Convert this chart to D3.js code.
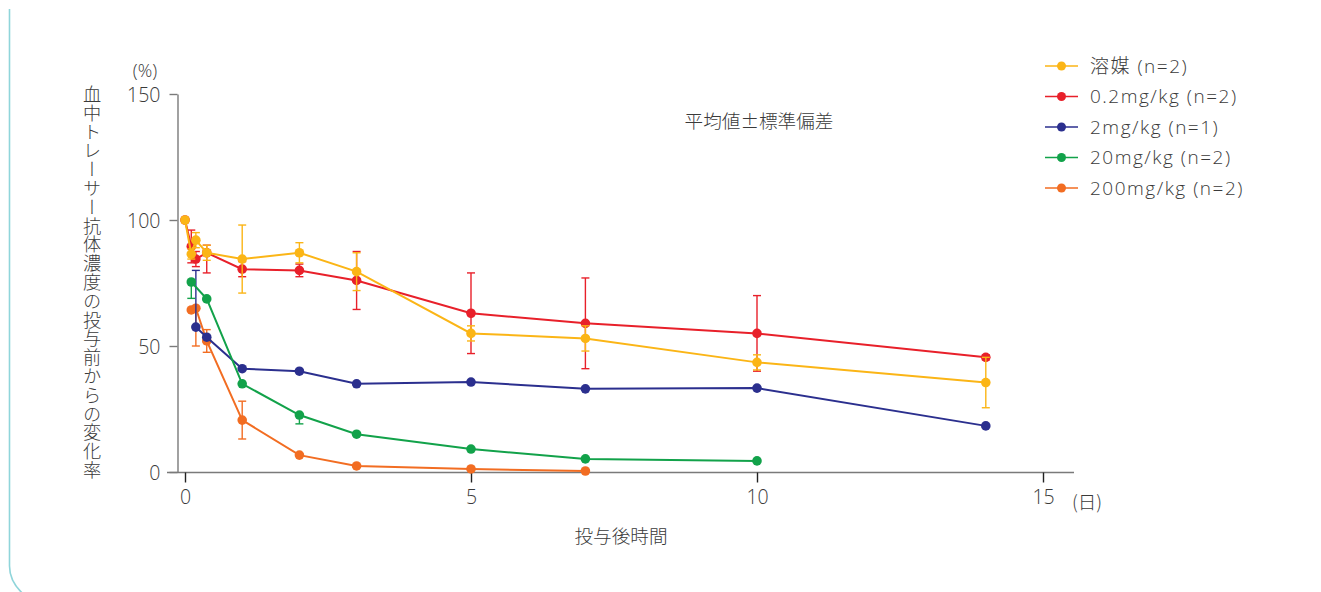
<!DOCTYPE html>
<html>
<head>
<meta charset="utf-8">
<script src="https://cdn.jsdelivr.net/npm/d3@7"></script>
<style>
  html, body { margin: 0; padding: 0; background: #fff; }
  svg { display: block; font-family: "Open Sans", "Noto Sans CJK JP", sans-serif; font-weight: 300; }
</style>
</head>
<body>
<svg id="chart" width="1321" height="592"></svg>
<script>
// Sampling times (days after dosing)
const days = [0, 0.11, 0.19, 0.38, 1, 2, 3, 5, 7, 10, 14];

// Mean change from baseline (%) per group; null = not sampled
const vehicle   = [100, 86.5, 92, 87, 84.5, 87, 79.5, 55, 53, 43.5, 35.5];
const dose0_2   = [100, 89.5, 84.5, 87, 80.5, 80, 76, 63, 59, 55, 45.5];
const dose2     = [null, null, 57.5, 53.5, 41, 40, 35, 35.7, 33, 33.3, 18.3];
const dose20    = [null, 75.4, null, 68.7, 35, 22.6, 15, 9.1, 5.2, 4.4, null];
const dose200   = [null, 64.3, 65, 52, 20.6, 6.7, 2.4, 1.2, 0.4, null, null];

// Standard deviation (upper / lower extent)
const vehicleSdUp   = [0, 2, 3, 3, 13.5, 4, 7.5, 3, 5, 3, 10];
const vehicleSdDn   = [0, 2, 3, 3, 13.5, 4, 7.5, 3, 5, 3, 10];
const dose0_2SdUp   = [0, 6.5, 3, 3, 3, 2.5, 11.5, 16, 18, 15, 1];
const dose0_2SdDn   = [0, 6.5, 3, 8, 3, 2.5, 11.5, 16, 18, 15, 1];
const dose2SdUp     = [0, 0, 22.5, 0, 0, 0, 0, 0, 0, 0, 0];
const dose2SdDn     = [0, 0, 0, 0, 0, 0, 0, 0, 0, 0, 0];
const dose20SdUp    = [0, 0, 0, 0, 0, 0, 0, 0, 0, 0, 0];
const dose20SdDn    = [0, 6.5, 0, 0, 0, 3.5, 0, 0, 0, 0, 0];
const dose200SdUp   = [0, 0, 0, 4.5, 7.5, 0, 0, 0, 0, 0, 0];
const dose200SdDn   = [0, 0, 15, 4.5, 7.5, 0, 0, 0, 0, 0, 0];

const seriesNames  = ["溶媒 (n=2)", "0.2mg/kg (n=2)", "2mg/kg (n=1)", "20mg/kg (n=2)", "200mg/kg (n=2)"];
const seriesColors = ["#fbb516", "#e8202a", "#2b2f8e", "#12a24a", "#f26d22"];

const xTicks = [0, 5, 10, 15];
const yTicks = [0, 50, 100, 150];

const groups = [
  { name: seriesNames[0], color: seriesColors[0], values: vehicle, up: vehicleSdUp, dn: vehicleSdDn },
  { name: seriesNames[1], color: seriesColors[1], values: dose0_2, up: dose0_2SdUp, dn: dose0_2SdDn },
  { name: seriesNames[2], color: seriesColors[2], values: dose2,   up: dose2SdUp,   dn: dose2SdDn },
  { name: seriesNames[3], color: seriesColors[3], values: dose20,  up: dose20SdUp,  dn: dose20SdDn },
  { name: seriesNames[4], color: seriesColors[4], values: dose200, up: dose200SdUp, dn: dose200SdDn }
];

const svg = d3.select("#chart");

// Panel frame: gradient top rule, left rule with rounded bottom corner
const defs = svg.append("defs");
const grad = defs.append("linearGradient").attr("id", "frameGrad")
  .attr("x1", "0%").attr("x2", "100%").attr("y1", "0%").attr("y2", "0%");
grad.append("stop").attr("offset", "0%").attr("stop-color", "#8fd5da");
grad.append("stop").attr("offset", "55%").attr("stop-color", "#b9d69a");
grad.append("stop").attr("offset", "100%").attr("stop-color", "#f7c53a");
svg.append("line").attr("x1", 9).attr("x2", 1321).attr("y1", 9.5).attr("y2", 9.5)
  .attr("stroke", "url(#frameGrad)").attr("stroke-width", 1.6);
svg.append("path").attr("d", "M9.5,9 L9.5,566 Q9.5,584 28,598")
  .attr("fill", "none").attr("stroke", "#8fd5da").attr("stroke-width", 1.6);

const x = d3.scaleLinear().domain([0, 15]).range([185, 1043]);
const y = d3.scaleLinear().domain([0, 150]).range([472, 94]);

const axisColor = "#7a7a7a";
const textColor = "#3a3a3a";
const cjk = "Noto Sans CJK JP";

// Y axis
const yAxis = svg.append("g").attr("transform", "translate(177.5,0)")
  .call(d3.axisLeft(y).tickValues(yTicks).tickSize(8).tickPadding(9).tickSizeOuter(0));
yAxis.select(".domain").attr("stroke", axisColor).attr("stroke-width", 1.4);
yAxis.selectAll(".tick line").attr("stroke", axisColor).attr("stroke-width", 1.4);
yAxis.selectAll(".tick text").attr("fill", textColor).attr("font-size", 19.5)
  .attr("font-family", "Open Sans").attr("font-weight", 300).attr("dy", "0.36em");

// X axis
const xAxis = svg.append("g").attr("transform", "translate(0,472.5)")
  .call(d3.axisBottom(x).tickValues(xTicks).tickSize(10).tickPadding(8).tickSizeOuter(0));
xAxis.select(".domain").attr("d", "M167,0H1074").attr("stroke", axisColor).attr("stroke-width", 1.4);
xAxis.selectAll(".tick line").attr("stroke", "#222").attr("stroke-width", 1.4);
xAxis.selectAll(".tick text").attr("fill", textColor).attr("font-size", 19.5)
  .attr("font-family", "Open Sans").attr("font-weight", 300);

// Axis annotations
svg.append("text").attr("x", 145).attr("y", 77).attr("text-anchor", "middle")
  .attr("fill", textColor).attr("font-size", 18).text("(%)");
svg.append("text").attr("x", 1087).attr("y", 509).attr("text-anchor", "middle")
  .attr("fill", textColor).attr("font-size", 18.5).attr("font-family", cjk).text("(日)");
svg.append("text").attr("x", 621).attr("y", 543).attr("text-anchor", "middle")
  .attr("fill", textColor).attr("font-size", 18.6).attr("font-family", cjk).text("投与後時間");
svg.append("text").attr("x", 759).attr("y", 128).attr("text-anchor", "middle")
  .attr("fill", textColor).attr("font-size", 18.6).attr("font-family", cjk).text("平均値±標準偏差");
svg.append("text").attr("x", 92).attr("y", 85)
  .attr("writing-mode", "vertical-rl").attr("fill", textColor).attr("font-family", cjk)
  .attr("font-size", 18.2).attr("letter-spacing", 0.6)
  .text("血中トレーサー抗体濃度の投与前からの変化率");

// Series, drawn back to front
const drawOrder = [4, 2, 3, 1, 0];
const line = d3.line()
  .defined(d => d.v != null)
  .x(d => x(d.t)).y(d => y(d.v));

drawOrder.forEach(i => {
  const g = groups[i];
  const pts = days.map((t, k) => ({ t, v: g.values[k], up: g.up[k], dn: g.dn[k] }));
  const valid = pts.filter(d => d.v != null);
  const layer = svg.append("g");

  layer.append("path").datum(valid).attr("d", line)
    .attr("fill", "none").attr("stroke", g.color).attr("stroke-width", 2);

  // Error bars
  valid.filter(d => d.up > 0 || d.dn > 0).forEach(d => {
    const cx = x(d.t);
    const top = y(d.v + d.up), bot = y(d.v - d.dn);
    layer.append("line").attr("x1", cx).attr("x2", cx).attr("y1", top).attr("y2", bot)
      .attr("stroke", g.color).attr("stroke-width", 1.4);
    if (d.up > 0) layer.append("line").attr("x1", cx - 4).attr("x2", cx + 4).attr("y1", top).attr("y2", top)
      .attr("stroke", g.color).attr("stroke-width", 1.4);
    if (d.dn > 0) layer.append("line").attr("x1", cx - 4).attr("x2", cx + 4).attr("y1", bot).attr("y2", bot)
      .attr("stroke", g.color).attr("stroke-width", 1.4);
  });

  layer.selectAll("circle").data(valid).join("circle")
    .attr("cx", d => x(d.t)).attr("cy", d => y(d.v)).attr("r", 4.8)
    .attr("fill", g.color);
});

// Legend
const legend = svg.append("g");
groups.forEach((g, i) => {
  const ly = 66 + i * 30.5;
  legend.append("line").attr("x1", 1045).attr("x2", 1078).attr("y1", ly).attr("y2", ly)
    .attr("stroke", g.color).attr("stroke-width", 1.6);
  legend.append("circle").attr("cx", 1061.5).attr("cy", ly).attr("r", 4.5).attr("fill", g.color);
  legend.append("text").attr("x", 1090).attr("y", ly).attr("dy", "0.36em")
    .attr("fill", textColor).attr("font-size", 19).attr("letter-spacing", 1.5).text(g.name);
});
</script>
</body>
</html>
